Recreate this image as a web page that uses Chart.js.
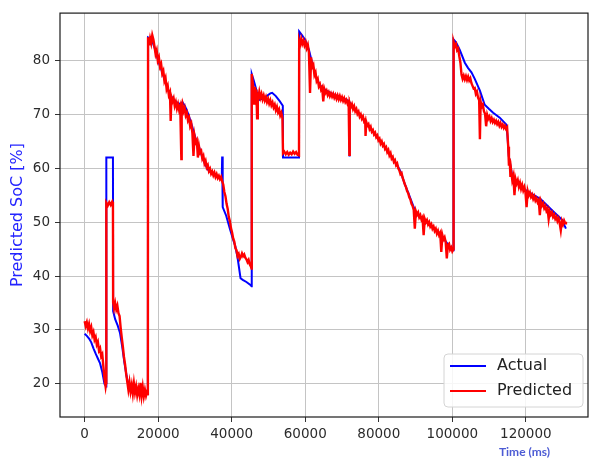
<!DOCTYPE html>
<html>
<head>
<meta charset="utf-8">
<script src="https://cdn.jsdelivr.net/npm/chart.js@4.4.1/dist/chart.umd.min.js"></script>
<style>
  html, body { margin: 0; background: #fff; }
  #caja { position: relative; width: 589px; height: 461px; }
</style>
</head>
<body>
<div id="caja"><canvas id="grafica-soc"></canvas></div>
<script>
// ticks
const ticksX = [0, 20000, 40000, 60000, 80000, 100000, 120000]
const ticksY = [20, 30, 40, 50, 60, 70, 80]

// SoC real (ms, %)
const tiempoReal = [
  0, 600, 1200, 1800, 2400, 3000, 3600, 4200, 4800, 5400, 5850,
  5900, 7700,
  7750, 8300, 9000, 9600, 10200, 10800, 11400, 12000, 12600, 13500, 14500, 15500, 16500, 17200,
  17250, 17800, 18400, 19000, 19600, 20200, 21000, 22000, 23000, 24000, 25000, 26000, 26600, 27300,
  28000, 28800, 29600, 30400, 31200, 32000, 32800, 33600, 34500, 35500, 36500, 37300, 37400, 37500,
  37600, 38500, 39500, 40500, 41000, 41600, 42400, 43000, 44000, 45000, 45400,
  45450, 46000, 46800, 47500, 48500, 49500, 50500, 51000, 52000, 53000, 53900, 53950, 58300,
  58350, 59000, 60000, 61000, 62000, 63000, 64000, 65000, 66000, 68000, 70000, 71500, 71900, 72000,
  72100, 73000, 74000, 75000, 76000, 77000, 78000, 79000, 80000, 81000, 82000, 83000, 84000, 85000,
  86000, 87000, 88000, 89000, 90000, 91000, 92000, 93000, 94000, 95000, 96000, 97000, 98000, 99000,
  100000, 100300,
  100350, 101000, 102000, 103400, 104300, 105200, 106100, 107500, 108800, 110000, 111100, 112900,
  114700, 115000, 115350, 116300, 117800, 119400, 121500, 124000, 125800, 127600, 129000, 129900,
  130500, 130900
]
const socReal = [
  29.3, 28.9, 28.4, 27.7, 26.6, 25.6, 24.7, 23.8, 22.2, 20.0, 19.5,
  62.0, 62.0,
  33.5, 32.0, 30.8, 29.5, 27.0, 24.0, 21.5, 19.3, 18.7, 18.5, 18.4, 18.3, 18.2, 18.1,
  84.3, 84.1, 83.6, 82.4, 80.9, 79.6, 78.0, 75.9, 74.0, 72.9, 72.3, 71.9, 72.3, 71.5,
  70.4, 68.8, 66.9, 65.0, 63.8, 62.0, 60.7, 59.7, 59.1, 58.7, 58.4, 58.1, 62.2, 57.4,
  52.8, 51.2, 48.8, 46.5, 45.5, 43.4, 39.6, 39.3, 38.9, 38.4, 38.1,
  77.5, 76.3, 74.3, 72.7, 73.0, 73.4, 73.9, 74.0, 73.4, 72.5, 71.6, 62.0, 62.0,
  85.4, 84.8, 83.8, 82.0, 79.2, 76.8, 75.4, 74.8, 74.3, 73.6, 73.1, 72.6, 72.4, 62.2,
  72.3, 71.4, 70.6, 69.8, 68.9, 68.0, 67.1, 66.3, 65.4, 64.5, 63.6, 62.6, 61.6, 60.6,
  59.3, 57.2, 55.5, 53.7, 51.9, 51.0, 50.5, 50.0, 49.4, 48.8, 48.1, 47.3, 46.6, 45.7,
  45.0, 44.8,
  83.9, 83.4, 82.0, 79.6, 78.6, 77.8, 76.6, 74.4, 71.8, 71.0, 70.3, 69.4,
  68.1, 66.0, 62.3, 58.6, 57.3, 56.2, 55.3, 54.3, 53.1, 51.9, 51.0, 50.4,
  49.4, 48.8
]

// SoC predicho (ms, %)
const tiempoPred = [
  0, 300, 600, 900, 1200, 1500, 1800, 2100, 2400, 2700,
  3000, 3300, 3600, 3900, 4200, 4500, 4800, 5100, 5400, 5700,
  5850, 5900, 6300, 6700, 7100, 7500, 7700,
  7750, 8000, 8300, 8600, 8900, 9200, 9500, 9800, 10100, 10400,
  10700, 11000, 11300, 11600, 11900, 12200, 12500, 12800, 13100, 13400,
  13700, 14000, 14300, 14600, 14900, 15200, 15500, 15800, 16100, 16400,
  16700, 17000, 17200,
  17250, 17500, 17800, 18100, 18400, 18700, 19000, 19300, 19600, 19900,
  20200, 20500, 20800, 21100, 21400, 21700, 22000, 22300, 22600, 22900,
  23200, 23400, 23600, 23900, 24200, 24500, 24800, 25100, 25400, 25700,
  26000, 26300, 26400, 26600, 26900, 27200, 27500, 27800, 28100, 28400,
  28700, 29000, 29300, 29600, 29900, 30200, 30500, 30800, 31100, 31400,
  31700, 32000, 32300, 32600, 32900, 33200, 33500, 33800, 34100, 34400,
  34700, 35000, 35300, 35600, 35900, 36200, 36500, 36800, 37100, 37400,
  37700, 38000, 38300, 38600, 38900, 39200, 39500, 39800, 40100, 40400,
  40700, 41000, 41300, 41600, 41900, 42200, 42500, 42800, 43100, 43400,
  43700, 44000, 44300, 44600, 44900, 45200, 45400,
  45450, 45700, 45900, 46100, 46300, 46500, 46700, 46900, 47100, 47300,
  47500, 47800, 48100, 48400, 48700, 49000, 49300, 49600, 49900, 50200,
  50500, 50800, 51100, 51400, 51700, 52000, 52300, 52600, 52900, 53200,
  53500, 53800, 53950, 54300, 54700, 55100, 55500, 55900, 56300, 56700,
  57100, 57500, 57900, 58300,
  58350, 58600, 58900, 59200, 59500, 59800, 60100, 60400, 60700, 61000,
  61300, 61600, 61900, 62200, 62500, 62800, 63100, 63400, 63700, 64000,
  64300, 64600, 64900, 65200, 65500, 65800, 66100, 66400, 66700, 67000,
  67300, 67600, 67900, 68200, 68500, 68800, 69100, 69400, 69700, 70000,
  70300, 70600, 70900, 71200, 71500, 71800, 72000, 72100, 72400, 72700,
  73000, 73300, 73600, 73900, 74200, 74500, 74800, 75100, 75400, 75700,
  76000, 76300, 76400, 76600, 76900, 77200, 77500, 77800, 78100, 78400,
  78700, 79000, 79300, 79600, 79900, 80200, 80500, 80800, 81100, 81400,
  81700, 82000, 82300, 82600, 82900, 83200, 83500, 83800, 84100, 84400,
  84700, 85000, 85300, 85600, 85900, 86200, 86500, 86800, 87100, 87400,
  87700, 88000, 88300, 88600, 88900, 89200, 89500, 89800, 90100, 90400,
  90700, 91000, 91300, 91600, 91900, 92200, 92500, 92800, 93100, 93400,
  93700, 94000, 94300, 94600, 94900, 95200, 95500, 95800, 96100, 96400,
  96700, 97000, 97300, 97600, 97900, 98200, 98500, 98800, 99100, 99400,
  99700, 100000, 100300,
  100350, 100700, 101000, 101300, 101600, 101900, 102200, 102500, 102800, 103100,
  103400, 103700, 104000, 104300, 104600, 104900, 105200, 105500, 105800, 106100,
  106400, 106700, 107000, 107300, 107500, 107700, 108000, 108300, 108600, 108900,
  109200, 109500, 109800, 110100, 110400, 110700, 111000, 111300, 111600, 111900,
  112200, 112500, 112800, 113100, 113400, 113700, 114000, 114300, 114600, 114900,
  115200, 115400, 115600, 115800, 116000, 116300, 116600, 116900, 117200, 117500,
  117800, 118100, 118400, 118700, 119000, 119300, 119600, 119900, 120200, 120500,
  120800, 121100, 121400, 121700, 122000, 122300, 122600, 122900, 123200, 123500,
  123800, 124100, 124400, 124700, 125000, 125300, 125600, 125900, 126200, 126500,
  126800, 127100, 127400, 127700, 128000, 128300, 128600, 128900, 129200, 129500,
  129800, 130100, 130400, 130700, 130900
]
const socPred = [
  31.6, 30.7, 31.4, 30.3, 31.1, 29.8, 30.5, 29.0, 29.6, 28.2,
  28.7, 27.3, 27.8, 26.2, 26.6, 25.1, 25.5, 23.2, 21.0, 19.5,
  20.2, 53.6, 53.1, 53.7, 53.2, 53.8, 53.4,
  35.1, 34.0, 35.0, 33.8, 34.5, 33.1, 32.6, 30.4, 28.6, 26.9,
  25.0, 23.6, 21.8, 20.4, 18.9, 20.3, 18.6, 19.8, 18.2, 20.1,
  18.4, 19.5, 17.9, 19.1, 18.0, 20.2, 17.8, 19.4, 17.7, 18.9,
  17.8, 18.6, 17.9,
  84.3, 82.8, 84.1, 83.2, 84.7, 83.9, 82.6, 81.2, 81.9, 80.0,
  80.6, 78.9, 79.4, 77.6, 78.1, 76.2, 76.8, 74.7, 75.3, 73.6,
  74.1, 68.8, 73.2, 72.4, 73.0, 71.6, 72.3, 71.1, 71.9, 70.8,
  71.5, 61.7, 71.2, 71.9, 70.6, 71.2, 69.8, 70.3, 68.9, 69.4,
  67.8, 68.3, 66.6, 62.3, 66.0, 64.8, 65.2, 62.0, 64.1, 62.9,
  63.2, 61.8, 62.3, 60.9, 61.4, 60.2, 60.6, 59.5, 59.9, 59.0,
  59.4, 58.7, 59.2, 58.4, 58.9, 58.2, 58.6, 58.0, 58.4, 57.6,
  57.0, 55.6, 54.8, 53.4, 52.5, 51.0, 50.2, 48.9, 48.1, 47.0,
  46.4, 45.2, 44.8, 43.7, 44.1, 43.2, 43.6, 44.2, 43.7, 44.0,
  43.4, 43.1, 42.6, 43.0, 42.2, 41.8, 41.4,
  77.5, 76.0, 74.9, 72.0, 75.1, 73.6, 74.6, 69.3, 74.1, 73.4,
  74.2, 73.1, 73.8, 72.8, 73.5, 72.6, 73.2, 72.3, 72.9, 72.0,
  72.6, 71.7, 72.2, 71.3, 71.8, 70.8, 71.4, 70.4, 70.9, 69.8,
  70.3, 69.3, 62.8, 63.1, 62.6, 63.0, 62.5, 62.9, 62.6, 63.1,
  62.7, 63.0, 62.5, 62.4,
  83.6, 82.9, 84.0, 83.1, 83.7, 82.8, 83.4, 82.3, 82.9, 81.5,
  74.0, 80.6, 78.8, 79.2, 77.3, 77.8, 76.2, 76.6, 75.2, 75.6,
  74.6, 75.0, 72.4, 74.7, 74.0, 74.4, 73.6, 74.1, 73.4, 73.9,
  73.3, 73.8, 73.1, 73.6, 72.9, 73.5, 72.8, 73.4, 72.7, 73.2,
  72.5, 73.0, 72.3, 72.7, 72.0, 72.4, 62.5, 72.1, 71.4, 71.9,
  71.0, 71.5, 70.6, 71.0, 70.1, 70.5, 69.6, 70.0, 69.2, 69.6,
  68.7, 69.0, 66.0, 68.6, 67.9, 68.2, 67.3, 67.7, 66.8, 67.1,
  66.3, 66.6, 65.8, 66.1, 65.2, 65.5, 64.6, 65.0, 64.2, 64.5,
  63.6, 63.9, 63.0, 63.4, 62.4, 62.8, 61.8, 62.1, 61.2, 61.5,
  60.6, 60.9, 60.0, 59.6, 58.9, 59.1, 58.2, 57.6, 57.0, 56.5,
  55.8, 55.4, 54.6, 54.2, 53.4, 53.0, 52.3, 48.8, 52.0, 51.4,
  51.8, 50.9, 51.3, 50.5, 50.9, 47.6, 50.6, 50.0, 50.4, 49.6,
  50.0, 49.2, 49.6, 48.8, 49.2, 48.4, 48.8, 47.9, 48.4, 47.6,
  48.0, 44.5, 47.6, 46.8, 47.2, 46.3, 43.3, 45.8, 46.0, 44.9,
  45.3, 44.6, 45.0,
  83.5, 82.6, 83.0, 81.9, 82.2, 80.8, 79.6, 77.4, 76.6, 77.2,
  76.5, 77.1, 76.4, 77.0, 76.3, 76.7, 75.8, 75.3, 74.8, 74.9,
  73.8, 74.2, 73.1, 72.6, 65.4, 72.4, 71.4, 71.8, 70.6, 70.1,
  67.8, 69.9, 69.2, 69.6, 68.8, 69.3, 68.6, 69.0, 68.4, 68.8,
  68.2, 68.6, 67.9, 68.4, 67.7, 68.1, 67.5, 67.9, 67.3, 67.6,
  64.0, 60.5, 61.8, 58.4, 59.6, 57.8, 58.6, 55.0, 58.0, 57.2,
  57.8, 56.6, 57.3, 56.2, 56.9, 55.9, 56.5, 55.5, 52.8, 55.8,
  55.0, 55.5, 54.7, 55.1, 54.3, 54.8, 54.0, 54.4, 53.7, 54.1,
  51.3, 53.8, 53.1, 53.5, 52.6, 53.0, 52.1, 52.5, 50.6, 52.0,
  51.4, 51.8, 51.0, 51.4, 50.6, 51.0, 50.2, 50.7, 49.8, 48.5,
  50.2, 49.6, 50.3, 49.8, 50.1
]

Chart.defaults.font.family = '"DejaVu Sans", sans-serif'

// marco negro, leyenda abajo a la derecha y titulo del eje x
const marco = {
  id: 'marco',
  afterDatasetsDraw(chart) {
    const { ctx, chartArea: a } = chart
    ctx.save()
    ctx.strokeStyle = '#1a1a1a'
    ctx.lineWidth = 1.2
    ctx.strokeRect(a.left, a.top, a.right - a.left, a.bottom - a.top)
    ctx.restore()
  },
  afterDraw(chart) {
    const { ctx, chartArea: a } = chart
    const w = 139, h = 53
    const x0 = a.right - 5 - w, y0 = a.bottom - 10 - h
    ctx.save()
    ctx.beginPath()
    ctx.roundRect(x0, y0, w, h, 4)
    ctx.fillStyle = 'rgba(255,255,255,0.85)'
    ctx.fill()
    ctx.strokeStyle = '#d4d4d4'
    ctx.lineWidth = 1
    ctx.stroke()
    chart.data.datasets.forEach((ds, i) => {
      const y = y0 + 12 + i * 25
      ctx.strokeStyle = ds.borderColor
      ctx.lineWidth = 2
      ctx.beginPath()
      ctx.moveTo(x0 + 6, y)
      ctx.lineTo(x0 + 42, y)
      ctx.stroke()
      ctx.fillStyle = '#222'
      ctx.font = '16px "DejaVu Sans"'
      ctx.textBaseline = 'middle'
      ctx.textAlign = 'left'
      ctx.fillText(ds.label, x0 + 53, y)
    })
    ctx.fillStyle = '#4c5bd4'
    ctx.font = 'bold 12px Lato'
    ctx.textAlign = 'center'
    ctx.textBaseline = 'middle'
    ctx.fillText('Time (ms)', a.right - 63.5, a.bottom + 35)
    ctx.restore()
  }
}

const canvas = document.getElementById('grafica-soc')
new Chart(canvas, {
  type: 'line',
  data: {
    datasets: [
      {
        label: 'Actual',
        data: tiempoReal.map((t, i) => ({ x: t, y: socReal[i] })),
        borderColor: '#0000ff',
        backgroundColor: '#0000ff',
        borderWidth: 2,
        pointRadius: 0,
        tension: 0,
        order: 1
      },
      {
        label: 'Predicted',
        data: tiempoPred.map((t, i) => ({ x: t, y: socPred[i] })),
        borderColor: '#ff0000',
        backgroundColor: '#ff0000',
        borderWidth: 2.4,
        pointRadius: 0,
        tension: 0,
        order: 0
      }
    ]
  },
  options: {
    responsive: true,
    maintainAspectRatio: false,
    animation: false,
    layout: { padding: { top: 10, right: 1, left: 0, bottom: 0 } },
    plugins: {
      legend: { display: false },
      tooltip: { enabled: false }
    },
    scales: {
      x: {
        type: 'linear',
        min: -6700,
        max: 136900,
        afterBuildTicks: s => { s.ticks = ticksX.map(v => ({ value: v })) },
        afterFit: s => { s.height = 44 },
        border: { display: false },
        grid: { color: '#c4c4c4', lineWidth: 1, tickLength: 5, tickColor: '#333', tickWidth: 1 },
        ticks: { color: '#2b2b2b', font: { size: 13.5 }, padding: 4, maxRotation: 0, autoSkip: false, callback: v => String(v) }
      },
      y: {
        min: 13.85,
        max: 88.8,
        afterBuildTicks: s => { s.ticks = ticksY.map(v => ({ value: v })) },
        afterFit: s => { s.width = 60 },
        border: { display: false },
        grid: { color: '#c4c4c4', lineWidth: 1, tickLength: 5, tickColor: '#333', tickWidth: 1 },
        ticks: { color: '#2b2b2b', font: { size: 13.5 }, padding: 5, callback: v => String(v) },
        title: { display: true, text: 'Predicted SoC [%]', color: '#2424ff', font: { size: 16 }, padding: { top: 8, bottom: 0 } }
      }
    }
  },
  plugins: [marco]
})
</script>
</body>
</html>
